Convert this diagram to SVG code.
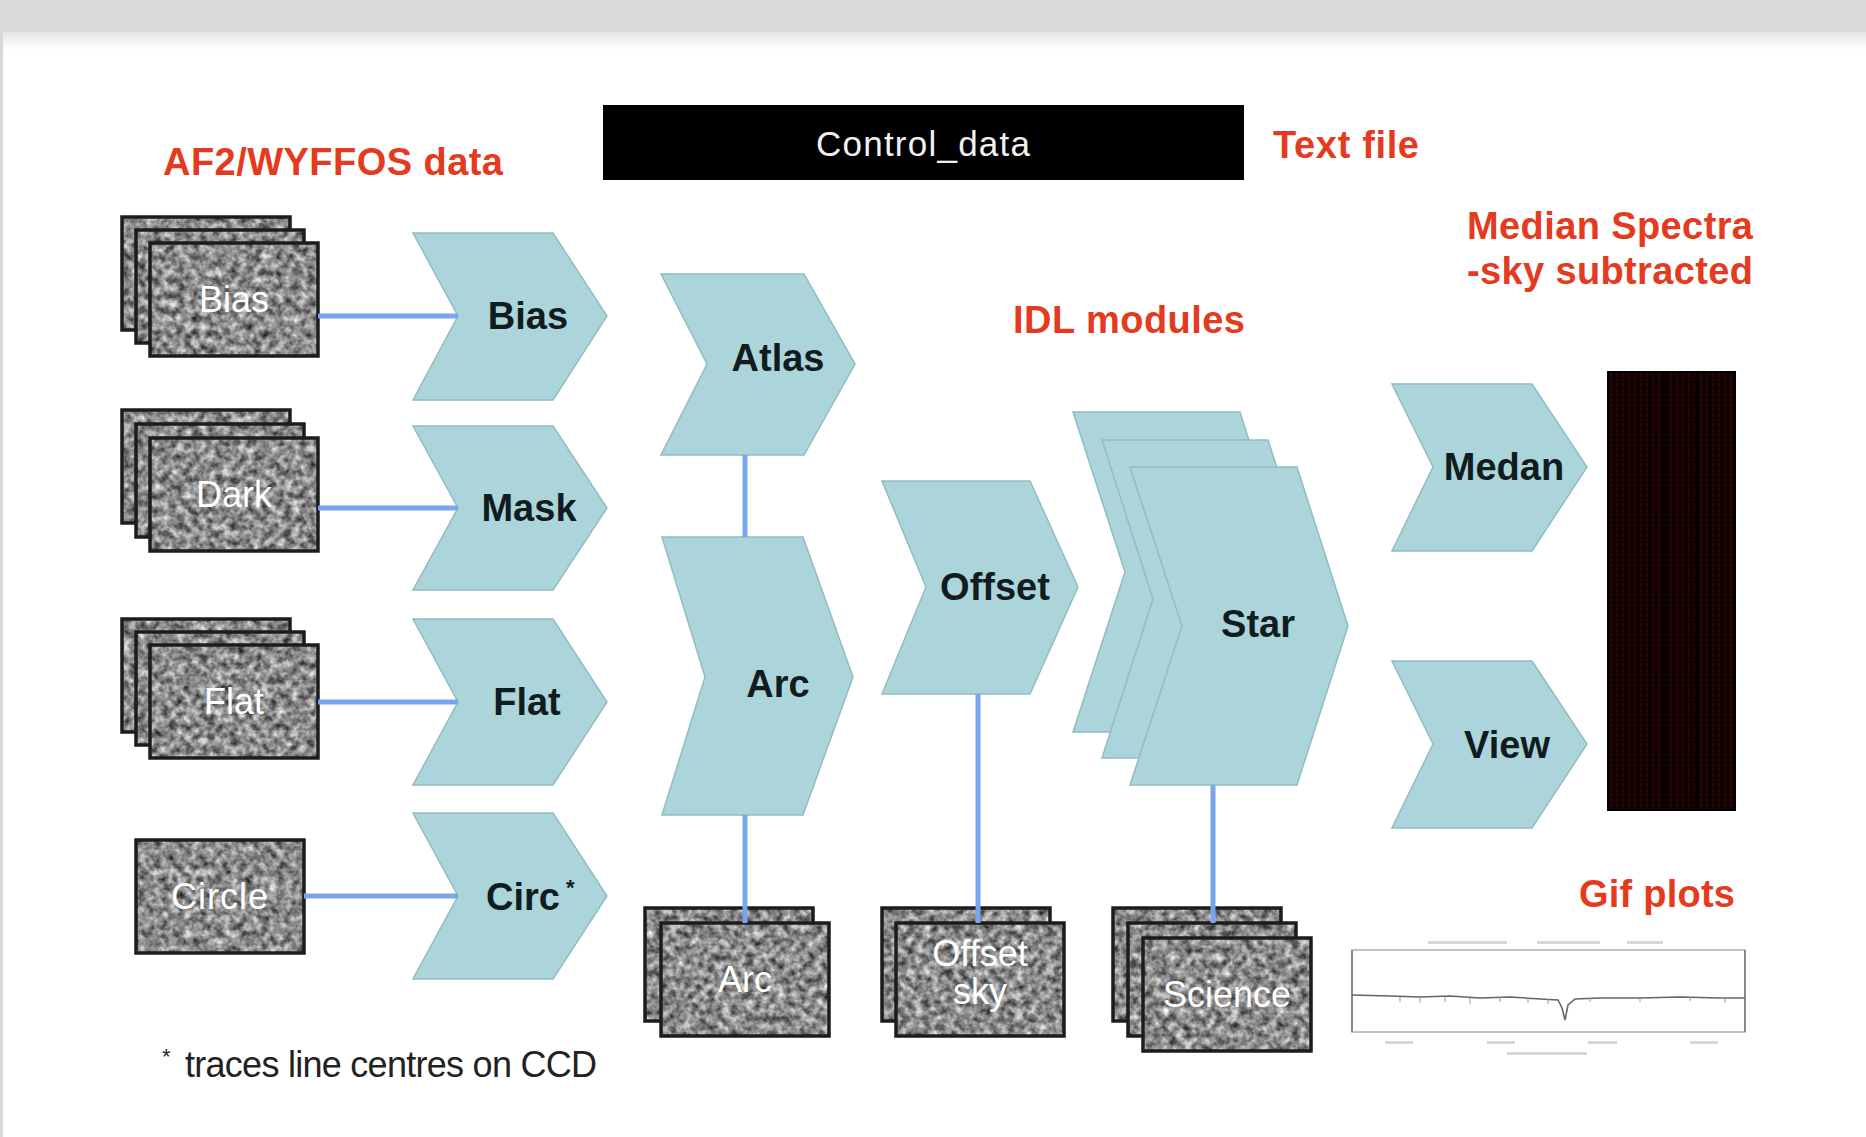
<svg xmlns="http://www.w3.org/2000/svg" width="1866" height="1137" viewBox="0 0 1866 1137">
<defs>
<style>
.bg{fill:#ffffff}
.band{fill:#d9d9d9}
.chev{fill:#abd5da;stroke:#90bcc2;stroke-width:1.5;stroke-linejoin:miter}
.lbl{font-family:"Liberation Sans",Arial,sans-serif;font-weight:bold;font-size:38px;fill:#101c1e;text-anchor:middle}
.head{font-family:"Liberation Sans",Arial,sans-serif;font-weight:bold;font-size:38px;fill:#e43a20}
.cardtxt{font-family:"Liberation Sans",Arial,sans-serif;font-size:36px;fill:#ffffff;text-anchor:middle}
.grain{fill:#888;filter:url(#grain)}
.edge{fill:none;stroke:#1c1c1c;stroke-width:3.5}
.conn{stroke:#78a5ec;stroke-width:5;fill:none}
.note{font-family:"Liberation Sans",Arial,sans-serif;font-size:36px;fill:#222}
.plotmark{fill:#d8d8d8}
</style>
<filter id="grain" x="0" y="0" width="1" height="1" color-interpolation-filters="sRGB">
<feTurbulence type="fractalNoise" baseFrequency="0.13" numOctaves="3" seed="7" result="n"/>
<feColorMatrix in="n" type="matrix" values="1.05 0 0 0 0.02  1.05 0 0 0 0.02  1.05 0 0 0 0.02  0 0 0 0 1" result="g"/>
<feComposite in="g" in2="SourceGraphic" operator="in"/>
</filter>
<linearGradient id="shade" x1="0" y1="0" x2="0" y2="1">
<stop offset="0" stop-color="#e6e6e6"/>
<stop offset="1" stop-color="#ffffff"/>
</linearGradient>
<pattern id="spec" x="1608" y="372" width="6" height="5" patternUnits="userSpaceOnUse">
<rect width="6" height="5" fill="#110100"/>
<rect x="2" y="0" width="2" height="5" fill="#3e0a05" opacity="0.55"/>
<rect x="0" y="0" width="6" height="1" fill="#070000" opacity="0.8"/>
</pattern>
</defs>

<rect class="bg" x="0" y="0" width="1866" height="1137"/>
<rect class="band" x="0" y="0" width="1866" height="32"/>
<rect x="0" y="32" width="1866" height="18" fill="url(#shade)"/>
<rect class="band" x="0" y="32" width="3" height="1105"/>

<!-- headings -->
<text class="head" x="163" y="175" textLength="340">AF2/WYFFOS data</text>
<text class="head" x="1273" y="158" textLength="146">Text file</text>
<text class="head" x="1013" y="333" textLength="232">IDL modules</text>
<text class="head" x="1467" y="239" textLength="286">Median Spectra</text>
<text class="head" x="1467" y="284" textLength="286">-sky subtracted</text>
<text class="head" x="1579" y="907" textLength="156">Gif plots</text>

<!-- control data -->
<g id="control_data">
<rect x="603" y="105" width="641" height="75" fill="#000000"/>
<text x="923" y="156" font-family="Liberation Sans, Arial, sans-serif" font-size="35" fill="#f2f2f2" text-anchor="middle" textLength="214">Control_data</text>
</g>

<!-- raw data stacks -->
<g id="stack_bias">
<rect class="grain" x="122" y="217" width="168" height="113"/><rect class="edge" x="122" y="217" width="168" height="113"/>
<rect class="grain" x="136" y="230" width="168" height="113"/><rect class="edge" x="136" y="230" width="168" height="113"/>
<rect class="grain" x="150" y="243" width="168" height="113"/><rect class="edge" x="150" y="243" width="168" height="113"/>
<text class="cardtxt" x="234" y="312">Bias</text>
</g>
<g id="stack_dark">
<rect class="grain" x="122" y="410" width="168" height="113"/><rect class="edge" x="122" y="410" width="168" height="113"/>
<rect class="grain" x="136" y="424" width="168" height="113"/><rect class="edge" x="136" y="424" width="168" height="113"/>
<rect class="grain" x="150" y="438" width="168" height="113"/><rect class="edge" x="150" y="438" width="168" height="113"/>
<text class="cardtxt" x="234" y="507">Dark</text>
</g>
<g id="stack_flat">
<rect class="grain" x="122" y="619" width="168" height="113"/><rect class="edge" x="122" y="619" width="168" height="113"/>
<rect class="grain" x="136" y="632" width="168" height="113"/><rect class="edge" x="136" y="632" width="168" height="113"/>
<rect class="grain" x="150" y="645" width="168" height="113"/><rect class="edge" x="150" y="645" width="168" height="113"/>
<text class="cardtxt" x="234" y="714">Flat</text>
</g>
<g id="card_circle">
<rect class="grain" x="136" y="840" width="168" height="113"/><rect class="edge" x="136" y="840" width="168" height="113"/>
<text class="cardtxt" x="220" y="909" letter-spacing="1">Circle</text>
</g>

<!-- left modules -->
<g id="mod_bias">
<polygon class="chev" points="413,233 553,233 607,316 553,400 413,400 458,316"/>
<text class="lbl" x="528" y="329">Bias</text>
</g>
<g id="mod_mask">
<polygon class="chev" points="413,426 553,426 607,508 553,590 413,590 458,508"/>
<text class="lbl" x="529" y="521">Mask</text>
</g>
<g id="mod_flat">
<polygon class="chev" points="413,619 553,619 607,702 553,785 413,785 458,702"/>
<text class="lbl" x="527" y="715">Flat</text>
</g>
<g id="mod_circ">
<polygon class="chev" points="413,813 553,813 607,896 553,979 413,979 458,896"/>
<text class="lbl" x="523" y="910">Circ</text>
<text x="566" y="895" font-family="Liberation Sans, Arial, sans-serif" font-weight="bold" font-size="22" fill="#101c1e">*</text>
</g>

<!-- middle modules -->
<g id="mod_atlas">
<polygon class="chev" points="661,274 804,274 855,364 804,455 661,455 707,364"/>
<text class="lbl" x="778" y="371">Atlas</text>
</g>
<g id="mod_arc">
<polygon class="chev" points="662,537 803,537 853,677 803,815 662,815 705,677"/>
<text class="lbl" x="778" y="697">Arc</text>
</g>
<g id="mod_offset">
<polygon class="chev" points="882,481 1030,481 1078,587 1030,694 882,694 926,587"/>
<text class="lbl" x="995" y="600">Offset</text>
</g>
<g id="mod_star">
<polygon class="chev" points="1073,412 1240,412 1291,572 1240,732 1073,732 1125,572"/>
<polygon class="chev" points="1102,440 1268,440 1319,599 1268,758 1102,758 1153,599"/>
<polygon class="chev" points="1130,467 1297,467 1348,626 1297,785 1130,785 1182,626"/>
<text class="lbl" x="1258" y="637">Star</text>
</g>
<g id="mod_medan">
<polygon class="chev" points="1392,384 1532,384 1587,467 1532,551 1392,551 1433,467"/>
<text class="lbl" x="1504" y="480">Medan</text>
</g>
<g id="mod_view">
<polygon class="chev" points="1392,661 1532,661 1587,744 1532,828 1392,828 1433,744"/>
<text class="lbl" x="1507" y="758">View</text>
</g>

<!-- bottom data stacks -->
<g id="stack_arc">
<rect class="grain" x="645" y="908" width="168" height="113"/><rect class="edge" x="645" y="908" width="168" height="113"/>
<rect class="grain" x="661" y="923" width="168" height="113"/><rect class="edge" x="661" y="923" width="168" height="113"/>
<text class="cardtxt" x="745" y="992">Arc</text>
</g>
<g id="stack_offset_sky">
<rect class="grain" x="882" y="908" width="168" height="113"/><rect class="edge" x="882" y="908" width="168" height="113"/>
<rect class="grain" x="896" y="923" width="168" height="113"/><rect class="edge" x="896" y="923" width="168" height="113"/>
<text class="cardtxt" x="980" y="966" font-size="32">Offset</text>
<text class="cardtxt" x="980" y="1004" font-size="32">sky</text>
</g>
<g id="stack_science">
<rect class="grain" x="1113" y="908" width="168" height="113"/><rect class="edge" x="1113" y="908" width="168" height="113"/>
<rect class="grain" x="1128" y="923" width="168" height="113"/><rect class="edge" x="1128" y="923" width="168" height="113"/>
<rect class="grain" x="1143" y="938" width="168" height="113"/><rect class="edge" x="1143" y="938" width="168" height="113"/>
<text class="cardtxt" x="1227" y="1007">Science</text>
</g>

<!-- median spectra image -->
<g id="spectra_image">
<rect x="1608" y="372" width="127" height="438" fill="url(#spec)"/>
<rect x="1662" y="372" width="5" height="438" fill="#050000" opacity="0.8"/>
<rect x="1695" y="372" width="4" height="438" fill="#050000" opacity="0.8"/>
<rect x="1608" y="372" width="127" height="438" fill="none" stroke="#000" stroke-width="2"/>
</g>

<!-- gif plot -->
<g id="gif_plot">
<rect x="1428" y="941" width="79" height="3" class="plotmark"/>
<rect x="1537" y="941" width="63" height="3" class="plotmark"/>
<rect x="1627" y="941" width="36" height="3" class="plotmark"/>
<rect x="1352" y="950" width="393" height="82" fill="none" stroke="#b0b0b0" stroke-width="1.5"/>
<line x1="1352" y1="950" x2="1352" y2="1032" stroke="#888" stroke-width="2"/>
<line x1="1745" y1="950" x2="1745" y2="1032" stroke="#888" stroke-width="2"/>
<polyline points="1352,995 1390,996 1420,997 1450,996 1480,998 1510,997 1540,999 1558,1000 1562,1008 1565,1020 1568,1005 1575,999 1600,998 1640,998 1680,997 1720,998 1745,998" fill="none" stroke="#666" stroke-width="1.6"/>
<path d="M1400 997v5M1420 997v6M1445 997v5M1470 998v6M1500 997v5M1528 998v5M1548 999v5M1590 998v4M1640 998v4M1690 997v4M1725 998v5" stroke="#999" stroke-width="1"/>
<rect x="1385" y="1041" width="28" height="3" class="plotmark"/>
<rect x="1487" y="1041" width="28" height="3" class="plotmark"/>
<rect x="1588" y="1041" width="29" height="3" class="plotmark"/>
<rect x="1690" y="1041" width="28" height="3" class="plotmark"/>
<rect x="1507" y="1052" width="80" height="3" class="plotmark"/>
</g>

<!-- footnote -->
<text x="162" y="1064" font-family="Liberation Sans, Arial, sans-serif" font-size="22" fill="#222">*</text>
<text class="note" x="185" y="1077" textLength="412">traces line centres on CCD</text>

<!-- connectors -->
<g id="connectors">
<line class="conn" x1="318" y1="316" x2="458" y2="316"/>
<line class="conn" x1="318" y1="508" x2="458" y2="508"/>
<line class="conn" x1="318" y1="702" x2="458" y2="702"/>
<line class="conn" x1="304" y1="896" x2="458" y2="896"/>
<line class="conn" x1="745" y1="455" x2="745" y2="537"/>
<line class="conn" x1="745" y1="815" x2="745" y2="923"/>
<line class="conn" x1="978" y1="694" x2="978" y2="923"/>
<line class="conn" x1="1213" y1="785" x2="1213" y2="923"/>
</g>
</svg>
